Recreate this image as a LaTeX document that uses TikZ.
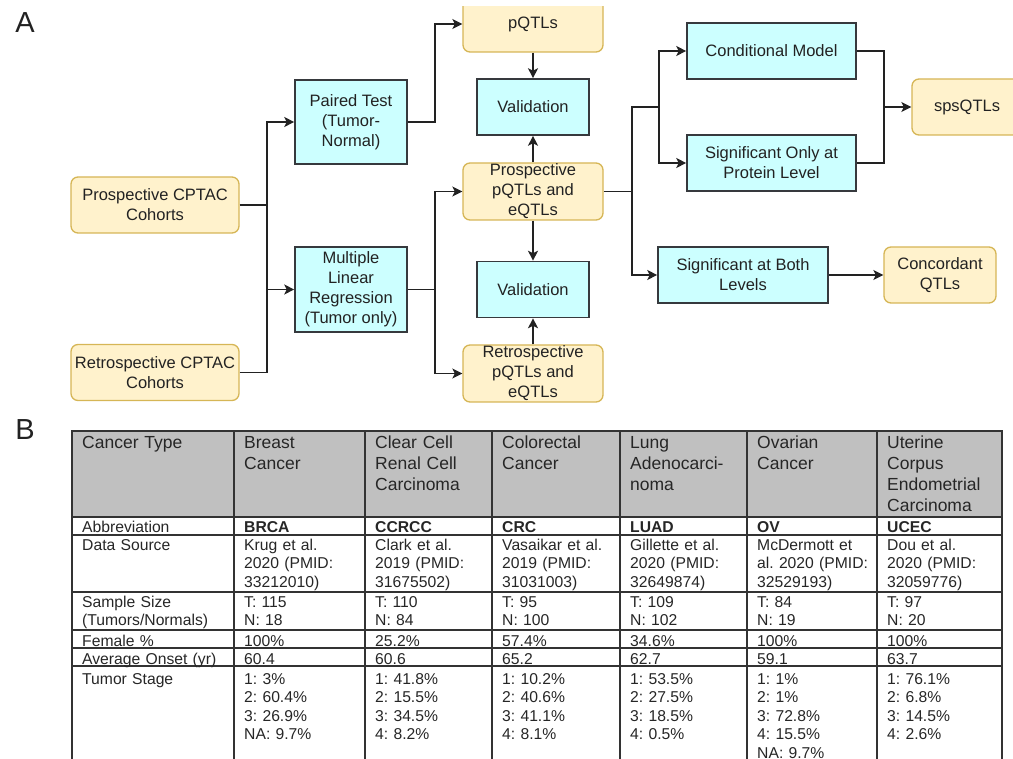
\documentclass[tikz,border=0pt]{standalone}
\usepackage{fontspec}
\setmainfont{Liberation Sans}
\usetikzlibrary{arrows.meta}

\definecolor{qtlfill}{HTML}{FFF2CC}
\definecolor{qtldraw}{HTML}{D6B656}
\definecolor{testfill}{HTML}{CCFFFF}
\definecolor{testdraw}{HTML}{36393D}
\definecolor{headgrey}{HTML}{C0C0C0}
\definecolor{ink}{HTML}{222222}

\begin{document}
\begin{tikzpicture}[x=1pt,y=-1pt,
	every node/.style={inner sep=0pt,align=center,text=ink,font=\fontsize{16.5}{20}\selectfont\frenchspacing},
	qtl/.style={draw=qtldraw,fill=qtlfill,line width=1.3pt,rounded corners=7pt,minimum height=56pt},
	test/.style={draw=testdraw,fill=testfill,line width=1.6pt,minimum height=56pt},
	flow/.style={draw=ink,line width=1.5pt,-{Stealth[length=10pt,width=10pt,inset=2.5pt]}},
	link/.style={draw=ink,line width=1.5pt},
	rule/.style={draw=black!80,line width=2pt,line cap=rect},
	cell/.style={anchor=base west,align=left,text width=124pt,text=black!85,font=\fontsize{15.7}{18.5}\selectfont\frenchspacing},
	headcell/.style={cell,font=\fontsize{17.5}{20.7}\selectfont\frenchspacing}]
	  \useasboundingbox (0,0) rectangle (1013,759);
	  \clip (0,7) rectangle (1013,759);

	  \node[font=\fontsize{29}{30}\selectfont] (panelA) at (25,23) {A};
	  \node[font=\fontsize{29}{30}\selectfont] (panelB) at (25,430) {B};

	  % A: workflow
	  \node[qtl,minimum width=168pt] (prosp) at (155,205) {Prospective CPTAC\\Cohorts};
	  \node[qtl,minimum width=168pt] (retro) at (155,372.5) {Retrospective CPTAC\\Cohorts};
	  \node[test,minimum width=112pt,minimum height=84pt] (paired) at (351,122) {Paired Test\\(Tumor-\\Normal)};
	  \node[test,minimum width=112pt,minimum height=85pt] (mlr) at (351,289.5) {Multiple\\Linear\\Regression\\(Tumor only)};
	  \node[qtl,minimum width=140pt] (pqtl) at (533,24) {pQTLs};
	  \node[test,minimum width=112pt] (val1) at (533,107) {Validation};
	  \node[qtl,minimum width=140pt,minimum height=57pt] (ppe) at (533,191.5) {Prospective\\pQTLs and\\eQTLs};
	  \node[test,minimum width=112pt] (val2) at (533,289.5) {Validation};
	  \node[qtl,minimum width=140pt,minimum height=57pt] (rpe) at (533,373.5) {Retrospective\\pQTLs and\\eQTLs};
	  \node[test,minimum width=169pt] (cond) at (771.5,51) {Conditional Model};
	  \node[test,minimum width=169pt] (sigp) at (771.5,163) {Significant Only at\\Protein Level};
	  \node[qtl,minimum width=110pt] (spsq) at (967,107) {spsQTLs};
	  \node[test,minimum width=170pt] (sigb) at (743,275) {Significant at Both\\Levels};
	  \node[qtl,minimum width=112pt] (conc) at (940,275) {Concordant\\QTLs};

	  \coordinate (forkA) at (267,205);
	  \coordinate (forkB) at (435,122);
	  \coordinate (forkC) at (435,289.5);
	  \coordinate (forkD) at (632,191.5);
	  \coordinate (forkE) at (659,107);
	  \coordinate (joinF) at (884,107);

	  \draw[link] (prosp.east) -- (forkA);
	  \draw[link] (retro.east) -| (forkA);
	  \draw[flow] (forkA) |- (paired.west);
	  \draw[flow] (forkA) |- (mlr.west);
	  \draw[flow] (paired.east) -- (forkB) |- (pqtl.west);
	  \draw[link] (mlr.east) -- (forkC);
	  \draw[flow] (forkC) |- (ppe.west);
	  \draw[flow] (forkC) |- (rpe.west);
	  \draw[flow] (pqtl) -- (val1);
	  \draw[flow] (ppe) -- (val1);
	  \draw[flow] (ppe) -- (val2);
	  \draw[flow] (rpe) -- (val2);
	  \draw[link] (ppe.east) -- (forkD);
	  \draw[link] (forkD) |- (forkE);
	  \draw[flow] (forkE) |- (cond.west);
	  \draw[flow] (forkE) |- (sigp.west);
	  \draw[flow] (forkD) |- (sigb.west);
	  \draw[link] (cond.east) -| (joinF);
	  \draw[link] (sigp.east) -| (joinF);
	  \draw[flow] (joinF) -- (spsq.west);
	  \draw[flow] (sigb) -- (conc);

	  % B: cohort table
	  \fill[headgrey] (72,431) rectangle (1002,517);
	  \foreach \y in {431,517,535,592,630,648,666}{\draw[rule] (72,\y) -- (1002,\y);}
	  \foreach \x in {72,234,365,492,620,747,877,1002}{\draw[rule] (\x,431) -- (\x,770);}

	  \node[headcell,text width=150pt] (typeH) at (82,449) {Cancer Type};
	  \node[cell,text width=150pt] (abbrH) at (82,532) {Abbreviation};
	  \node[cell,text width=150pt] (srcH) at (82,550) {Data Source};
	  \node[cell,text width=150pt] (sizeH) at (82,607) {Sample Size\\(Tumors/Normals)};
	  \node[cell,text width=150pt] (femH) at (82,646) {Female \%};
	  \node[cell,text width=150pt] (ageH) at (82,664) {Average Onset (yr)};
	  \node[cell,text width=150pt] (stageH) at (82,684) {Tumor Stage};

	  \foreach \x/\kind/\abbr/\src/\size/\fem/\age/\stage [count=\c] in {
	    234/{Breast\\Cancer}/BRCA/{Krug et al.\\2020 (PMID:\\33212010)}/{T: 115\\N: 18}/100\%/60.4/{1: 3\%\\2: 60.4\%\\3: 26.9\%\\NA: 9.7\%},
	    365/{Clear Cell\\Renal Cell\\Carcinoma}/CCRCC/{Clark et al.\\2019 (PMID:\\31675502)}/{T: 110\\N: 84}/25.2\%/60.6/{1: 41.8\%\\2: 15.5\%\\3: 34.5\%\\4: 8.2\%},
	    492/{Colorectal\\Cancer}/CRC/{Vasaikar et al.\\2019 (PMID:\\31031003)}/{T: 95\\N: 100}/57.4\%/65.2/{1: 10.2\%\\2: 40.6\%\\3: 41.1\%\\4: 8.1\%},
	    620/{Lung\\Adenocarci-\\noma}/LUAD/{Gillette et al.\\2020 (PMID:\\32649874)}/{T: 109\\N: 102}/34.6\%/62.7/{1: 53.5\%\\2: 27.5\%\\3: 18.5\%\\4: 0.5\%},
	    747/{Ovarian\\Cancer}/OV/{McDermott et\\al. 2020 (PMID:\\32529193)}/{T: 84\\N: 19}/100\%/59.1/{1: 1\%\\2: 1\%\\3: 72.8\%\\4: 15.5\%\\NA: 9.7\%},
	    877/{Uterine\\Corpus\\Endometrial\\Carcinoma}/UCEC/{Dou et al.\\2020 (PMID:\\32059776)}/{T: 97\\N: 20}/100\%/63.7/{1: 76.1\%\\2: 6.8\%\\3: 14.5\%\\4: 2.6\%}}{
	    \node[headcell] (type\c) at (\x+10,449) {\kind};
	    \node[cell] (abbr\c) at (\x+10,532) {\textbf{\abbr}};
	    \node[cell] (src\c) at (\x+10,550) {\src};
	    \node[cell] (size\c) at (\x+10,607) {\size};
	    \node[cell] (fem\c) at (\x+10,646) {\fem};
	    \node[cell] (age\c) at (\x+10,664) {\age};
	    \node[cell] (stage\c) at (\x+10,684) {\stage};
	  }
\end{tikzpicture}
\end{document}
